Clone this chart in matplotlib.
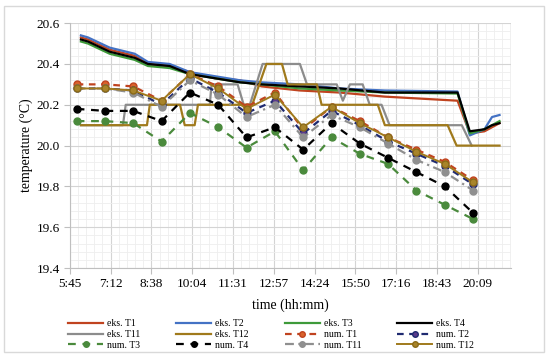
import matplotlib
matplotlib.use("Agg")
import matplotlib.pyplot as plt
import numpy as np
from matplotlib.ticker import MultipleLocator
from matplotlib.patches import Rectangle

plt.rcParams['font.family'] = ['Liberation Serif', 'DejaVu Serif']

# ---------------- data ----------------
# numerical results, hourly
num_hours = ["6:00", "7:00", "8:00", "9:00", "10:00", "11:00", "12:00", "13:00",
             "14:00", "15:00", "16:00", "17:00", "18:00", "19:00", "20:00"]
num_T1 = [20.30, 20.30, 20.29, 20.22, 20.35, 20.29, 20.19, 20.26, 20.08, 20.19, 20.12, 20.04, 19.98, 19.92, 19.83]
num_T2 = [20.28, 20.28, 20.27, 20.20, 20.33, 20.26, 20.16, 20.22, 20.06, 20.17, 20.10, 20.02, 19.96, 19.90, 19.81]
num_T3 = [20.12, 20.12, 20.11, 20.02, 20.16, 20.09, 19.99, 20.07, 19.88, 20.04, 19.96, 19.91, 19.78, 19.71, 19.64]
num_T4 = [20.18, 20.17, 20.17, 20.12, 20.26, 20.20, 20.04, 20.09, 19.98, 20.11, 20.01, 19.94, 19.87, 19.80, 19.67]
num_T11 = [20.28, 20.28, 20.26, 20.19, 20.32, 20.25, 20.14, 20.20, 20.04, 20.15, 20.09, 20.01, 19.93, 19.87, 19.78]
num_T12 = [20.28, 20.28, 20.27, 20.22, 20.35, 20.28, 20.18, 20.25, 20.09, 20.19, 20.11, 20.04, 19.97, 19.91, 19.82]

# experimental measurements (breakpoints)
eks_time = ["6:09", "6:24", "7:10", "8:03", "8:31", "9:17", "10:00", "10:53", "11:46",
            "12:32", "13:53", "15:17", "16:53", "19:27", "19:53", "20:24", "20:40", "20:56"]
eks_T1 = [20.53, 20.52, 20.47, 20.44, 20.40, 20.39, 20.36, 20.33, 20.32, 20.29, 20.27, 20.26, 20.24, 20.22, 20.06, 20.07, 20.09, 20.11]
eks_T2 = [20.54, 20.53, 20.48, 20.45, 20.41, 20.40, 20.36, 20.34, 20.32, 20.31, 20.30, 20.28, 20.27, 20.265, 20.05, 20.08, 20.14, 20.15]
eks_T3 = [20.51, 20.50, 20.45, 20.42, 20.39, 20.38, 20.35, 20.33, 20.31, 20.30, 20.28, 20.27, 20.26, 20.255, 20.06, 20.08, 20.10, 20.12]
eks_T4 = [20.52, 20.51, 20.46, 20.43, 20.40, 20.39, 20.35, 20.33, 20.31, 20.30, 20.29, 20.28, 20.26, 20.26, 20.07, 20.08, 20.10, 20.11]

eks_T11_time = ["6:09", "7:38", "7:44", "10:42", "10:46", "11:41", "11:54", "12:07", "12:34",
                "13:53", "14:08", "15:11", "15:24", "15:39", "16:06", "16:21", "16:46", "17:03",
                "19:36", "19:57"]
eks_T11 = [20.1, 20.1, 20.2, 20.2, 20.3, 20.3, 20.2, 20.2, 20.4,
           20.4, 20.3, 20.3, 20.22, 20.3, 20.3, 20.2, 20.2, 20.1,
           20.1, 20.0]

eks_T12_time = ["6:09", "8:29", "8:35", "9:39", "9:49", "10:10", "10:17", "12:12", "12:42",
                "13:15", "13:27", "14:29", "14:39", "16:38", "16:53", "19:06", "19:25", "20:56"]
eks_T12 = [20.1, 20.1, 20.2, 20.2, 20.1, 20.1, 20.2, 20.2, 20.4,
           20.4, 20.3, 20.3, 20.2, 20.2, 20.1, 20.1, 20.0, 20.0]

xtick_labels = ["5:45", "7:12", "8:38", "10:04", "11:31", "12:57", "14:24",
                "15:50", "17:16", "18:43", "20:09"]
ytick_labels = ["19.4", "19.6", "19.8", "20.0", "20.2", "20.4", "20.6"]


def to_day(lst):
    out = []
    for s in lst:
        h, m = s.split(":")
        out.append((int(h) * 60 + int(m)) / 1440.0)
    return np.array(out)


# ---------------- figure ----------------
fig = plt.figure(figsize=(5.5, 3.56), dpi=100)
ax = fig.add_axes([0.127, 0.247, 0.802, 0.688])

c_red = '#c0431f'
c_blue = '#4472c4'
c_green = '#3e9a3a'
c_black = '#000000'
c_gray = '#8c8c8c'
c_gold = '#a07a1c'

te = to_day(eks_time)
h = {}
h['eks. T1'], = ax.plot(te, eks_T1, color=c_red, lw=1.6)
h['eks. T2'], = ax.plot(te, eks_T2, color=c_blue, lw=1.6)
h['eks. T3'], = ax.plot(te, eks_T3, color=c_green, lw=1.6)
h['eks. T4'], = ax.plot(te, eks_T4, color=c_black, lw=1.6)
h['eks. T11'], = ax.plot(to_day(eks_T11_time), eks_T11, color=c_gray, lw=1.6)
h['eks. T12'], = ax.plot(to_day(eks_T12_time), eks_T12, color=c_gold, lw=1.6)

tn = to_day(num_hours)
ms = 5
h['num. T1'], = ax.plot(tn, num_T1, color='#c0431f', lw=1.6, ls=(0, (3, 2.5)),
                        marker='o', ms=ms, mfc='#d9622b', mec='#c0431f')
h['num. T2'], = ax.plot(tn, num_T2, color='#1f2a70', lw=1.6, ls=(0, (3, 2.5)),
                        marker='o', ms=ms, mfc='#5a3a8a', mec='#1f2a70')
h['num. T3'], = ax.plot(tn, num_T3, color='#4a8a3c', lw=1.6, ls=(0, (3.5, 3)),
                        marker='o', ms=ms, mfc='#4a8a3c', mec='#4a8a3c')
h['num. T4'], = ax.plot(tn, num_T4, color='#000000', lw=1.6, ls=(0, (3.5, 3)),
                        marker='o', ms=ms, mfc='#000000', mec='#000000')
h['num. T11'], = ax.plot(tn, num_T11, color='#8f8f8f', lw=1.6, ls=(0, (4, 2, 1, 2)),
                         marker='o', ms=ms, mfc='#8f8f8f', mec='#8f8f8f')
h['num. T12'], = ax.plot(tn, num_T12, color=c_gold, lw=1.4,
                         marker='o', ms=ms, mfc='#a8842a', mec='#8a6a18')

# axes
ax.set_xlim(0.24, 0.889)
ax.set_ylim(19.4, 20.6)
ax.set_xticks(0.24 + 0.06 * np.arange(len(xtick_labels)))
ax.set_xticklabels(xtick_labels)
ax.set_yticks(19.4 + 0.2 * np.arange(len(ytick_labels)))
ax.set_yticklabels(ytick_labels)
ax.xaxis.set_minor_locator(MultipleLocator(0.012))
ax.yaxis.set_minor_locator(MultipleLocator(0.04))
ax.grid(which='major', color='#d4d4d4', lw=0.8)
ax.grid(which='minor', color='#eeeeee', lw=0.6)
ax.set_axisbelow(True)
for s in ['top', 'right']:
    ax.spines[s].set_visible(False)
for s in ['left', 'bottom']:
    ax.spines[s].set_color('#bfbfbf')
ax.tick_params(which='major', length=4, color='#bfbfbf', labelsize=9.5, pad=3)
ax.tick_params(which='minor', length=0)
ax.set_xlabel('time (hh:mm)', fontsize=10, labelpad=6)
ax.set_ylabel('temperature (°C)', fontsize=10, labelpad=3)

# legend in row-major order with 4 columns
rows = [['eks. T1', 'eks. T2', 'eks. T3', 'eks. T4'],
        ['eks. T11', 'eks. T12', 'num. T1', 'num. T2'],
        ['num. T3', 'num. T4', 'num. T11', 'num. T12']]
order = [rows[r][c] for c in range(4) for r in range(3)]
fig.legend([h[k] for k in order], order, ncol=4, loc='upper left',
           bbox_to_anchor=(0.124, 0.104), frameon=False, fontsize=7,
           handlelength=3.6, handletextpad=0.4, columnspacing=3.7,
           labelspacing=0.2, borderaxespad=0, borderpad=0, markerscale=0.8)

fig.patches.append(Rectangle((0.007, 0.011), 0.982, 0.972, transform=fig.transFigure,
                             fill=False, edgecolor='#d9d9d9', lw=1.0))

fig.savefig('out.png', dpi=100, facecolor='white')
